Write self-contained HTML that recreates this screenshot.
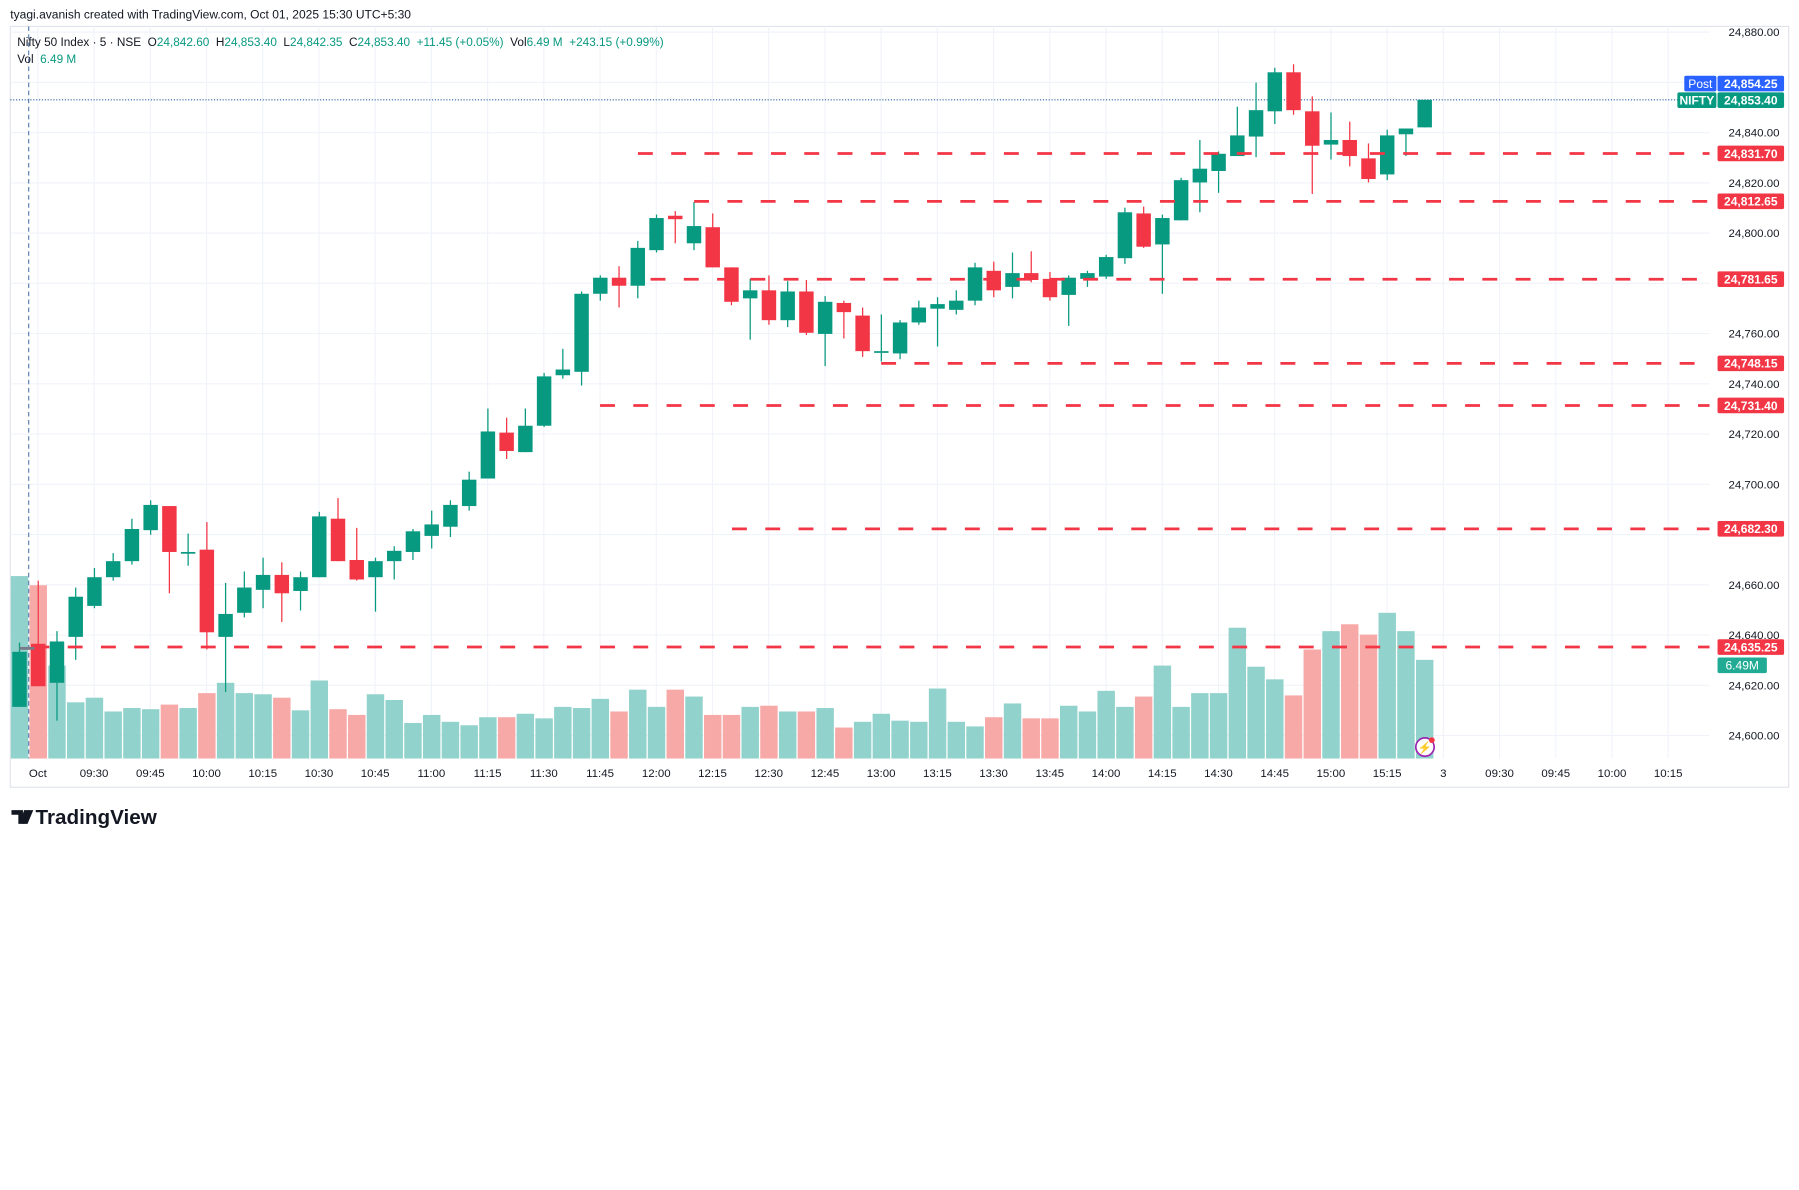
<!DOCTYPE html>
<html><head><meta charset="utf-8"><style>
html,body{margin:0;padding:0;background:#fff;}
svg{display:block;font-family:"Liberation Sans",sans-serif;}
.pre{white-space:pre;}
</style></head><body>
<svg id="s" width="1799" height="1190" viewBox="0 0 1568 1037" preserveAspectRatio="none" xmlns="http://www.w3.org/2000/svg">
<rect width="1568" height="1037" fill="#fff"/>
<text x="9" y="16" font-size="10.5" fill="#131722">tyagi.avanish created with TradingView.com, Oct 01, 2025 15:30 UTC+5:30</text>
<rect x="9" y="23" width="1550" height="663" fill="none" stroke="#e0e3eb" stroke-width="1"/>
<g id="grid"></g>
<g id="vol"></g>
<line x1="25" y1="23" x2="25" y2="661" stroke="#5b7fb0" stroke-width="1" stroke-dasharray="4,3"/>
<line x1="9" y1="87" x2="1490" y2="87" stroke="#2962a0" stroke-width="1" stroke-dasharray="1,1.5"/>
<g id="cd"></g>
<g id="dl"></g>
<line x1="17" y1="565" x2="30" y2="565" stroke="#787b86" stroke-width="2.5"/>
<text class="pre" x="15" y="40" font-size="10.3" fill="#131722">Nifty 50 Index · 5 · NSE  O<tspan fill="#089981">24,842.60</tspan>  H<tspan fill="#089981">24,853.40</tspan>  L<tspan fill="#089981">24,842.35</tspan>  C<tspan fill="#089981">24,853.40</tspan>  <tspan fill="#089981">+11.45 (+0.05%)</tspan>  Vol<tspan fill="#089981">6.49 M</tspan>  <tspan fill="#089981">+243.15 (+0.99%)</tspan></text>
<text class="pre" x="15" y="55" font-size="10.3" fill="#131722">Vol  <tspan fill="#089981">6.49 M</tspan></text>
<g id="ax" font-size="10" fill="#131722"></g>
<g id="lb" font-size="10.5" font-weight="bold" fill="#fff"></g>
<circle cx="1242" cy="651" r="8" fill="#fff" stroke="#9c27b0" stroke-width="1.5"/>
<text x="1242" y="655" font-size="10" fill="#9c27b0" text-anchor="middle">⚡</text>
<circle cx="1248" cy="645" r="2.5" fill="#f23645"/>
<g transform="translate(10,704)">
<path d="M0 2h10v12h-4V6H0z M11 2h4l-4 12h-4z" fill="#131722"/>
<path d="M14 2h5l-5 12h-4z" fill="#131722"/>
</g>
<text x="31" y="718" font-size="18" font-weight="bold" fill="#131722">TradingView</text>
</svg>
<script>
const NS="http://www.w3.org/2000/svg";
function el(p,t,a,txt){const e=document.createElementNS(NS,t);for(const k in a)e.setAttribute(k,a[k]);if(txt!==undefined)e.textContent=txt;document.getElementById(p).appendChild(e);return e;}
const y=p=>28+(24880-p)*2.1893;
for(let p=24600;p<=24880;p+=20){el("grid","line",{x1:9,x2:1490,y1:y(p),y2:y(p),stroke:"#f0f3fa","stroke-width":1});}
const tl=[["Oct",33],["09:30",82],["09:45",131],["10:00",180],["10:15",229],["10:30",278],["10:45",327],["11:00",376],["11:15",425],["11:30",474],["11:45",523],["12:00",572],["12:15",621],["12:30",670],["12:45",719],["13:00",768],["13:15",817],["13:30",866],["13:45",915],["14:00",964],["14:15",1013],["14:30",1062],["14:45",1111],["15:00",1160],["15:15",1209],["3",1258],["09:30",1307],["09:45",1356],["10:00",1405],["10:15",1454]];
tl.forEach(t=>{el("grid","line",{x1:t[1],x2:t[1],y1:23,y2:661,stroke:"#f0f3fa","stroke-width":1});el("ax","text",{x:t[1],y:677,"text-anchor":"middle"},t[0]);});
[24880,24840,24820,24800,24760,24740,24720,24700,24660,24640,24620,24600].forEach(p=>{el("ax","text",{x:1551,y:y(p)+3.5,"text-anchor":"end"},p.toLocaleString("en-US",{minimumFractionDigits:2}));});
const V=[[502,0],[510,1],[580,0],[612,0],[608,0],[620,0],[617,0],[618,0],[614,1],[617,0],[604,1],[595,0],[604,0],[605,0],[608,1],[619,0],[593,0],[618,1],[623,1],[605,0],[610,0],[630,0],[623,0],[629,0],[632,0],[625,0],[625,1],[622,0],[626,0],[616,0],[617,0],[609,0],[620,1],[601,0],[616,0],[601,1],[607,0],[623,1],[623,1],[616,0],[615,1],[620,0],[620,1],[617,0],[634,1],[629,0],[622,0],[628,0],[629,0],[600,0],[629,0],[633,0],[625,1],[613,0],[626,1],[626,1],[615,0],[620,0],[602,0],[616,0],[607,1],[580,0],[616,0],[604,0],[604,0],[547,0],[581,0],[592,0],[606,1],[566,1],[550,0],[544,1],[553,1],[534,0],[550,0],[575,0]];
const X=i=>17+16.33*i;
V.forEach((v,i)=>{el("vol","rect",{x:X(i)-7.6,y:v[0],width:15.2,height:661-v[0],fill:v[1]?"#f7a9a7":"#92d2cc"});});
const C=[[568,616,560,616,0],[561,598,506,598,1],[559,595,550,628,0],[520,555,512,575,0],[503,528,495,530,0],[489,503,482,506,0],[461,489,452,492,0],[440,462,436,466,0],[441,481,441,517,1],[481,482,465,493,0],[479,551,455,566,1],[535,555,508,603,0],[512,534,498,538,0],[501,514,486,530,0],[501,517,490,542,1],[503,515,498,532,0],[450,503,446,503,0],[452,489,434,489,1],[488,505,460,506,1],[489,503,486,533,0],[480,489,476,505,0],[463,481,461,488,0],[457,467,445,478,0],[440,459,436,468,0],[418,441,411,445,0],[376,417,356,417,0],[377,393,364,400,1],[371,394,356,394,0],[328,371,325,372,0],[322,327,304,330,0],[256,324,254,336,0],[242,256,240,262,0],[242,249,232,268,1],[216,249,210,260,0],[190,218,187,220,0],[188,191,184,212,1],[197,212,176,218,0],[198,233,186,233,1],[233,263,233,266,1],[253,260,243,296,0],[253,279,240,283,1],[254,279,245,285,0],[254,290,244,292,1],[263,291,258,319,0],[264,272,262,295,1],[275,306,268,311,1],[306,307,274,315,0],[281,308,279,313,0],[268,281,262,283,0],[265,269,259,302,0],[262,270,253,274,0],[233,262,229,266,0],[236,253,228,259,1],[238,250,220,260,0],[238,244,219,246,1],[243,259,237,262,1],[242,257,240,284,0],[238,243,236,250,0],[224,241,222,243,0],[185,225,181,230,0],[186,215,180,216,1],[190,213,187,256,0],[157,192,155,192,0],[147,159,122,185,0],[134,149,132,168,0],[118,136,93,136,0],[96,119,72,137,0],[63,97,59,108,0],[63,96,56,100,1],[97,127,84,169,1],[122,126,98,139,0],[122,136,106,145,1],[138,156,125,159,1],[118,152,113,157,0],[112,117,112,136,0],[87,111,87,111,0]];
C.forEach((c,i)=>{const col=c[4]?"#f23645":"#089981";const x=X(i);
el("cd","line",{x1:x,x2:x,y1:c[2],y2:c[3],stroke:col,"stroke-width":1.1});
el("cd","rect",{x:x-6.3,y:c[0],width:12.6,height:Math.max(1.5,c[1]-c[0]),fill:col});});
const L=[[24831.70,556],[24812.65,605],[24781.65,567],[24748.15,768],[24731.40,523],[24682.30,638],[24635.25,30]];
L.forEach(l=>{const yy=y(l[0]);el("dl","line",{x1:l[1],x2:1490,y1:yy,y2:yy,stroke:"#f23645","stroke-width":2.4,"stroke-dasharray":"13,16"});
el("lb","rect",{x:1497,y:yy-6.8,width:58,height:13.6,rx:1.5,fill:"#f23645"});
el("lb","text",{x:1526,y:yy+3.8,"text-anchor":"middle"},l[0].toLocaleString("en-US",{minimumFractionDigits:2}));});
el("lb","rect",{x:1468,y:66,width:28,height:13.6,rx:1.5,fill:"#2962ff"});
el("lb","text",{x:1482,y:76.5,"text-anchor":"middle","font-weight":"normal"},"Post");
el("lb","rect",{x:1497,y:66,width:58,height:13.6,rx:1.5,fill:"#2962ff"});
el("lb","text",{x:1526,y:76.5,"text-anchor":"middle"},"24,854.25");
el("lb","rect",{x:1462,y:80.5,width:34,height:13.6,rx:1.5,fill:"#089981"});
el("lb","text",{x:1479,y:91,"text-anchor":"middle"},"NIFTY");
el("lb","rect",{x:1497,y:80.5,width:58,height:13.6,rx:1.5,fill:"#089981"});
el("lb","text",{x:1526,y:91,"text-anchor":"middle"},"24,853.40");
el("lb","rect",{x:1497,y:573,width:43,height:13.6,rx:1.5,fill:"#22ab94"});
el("lb","text",{x:1518.5,y:583.5,"text-anchor":"middle","font-weight":"normal"},"6.49M");
</script>
</body></html>
